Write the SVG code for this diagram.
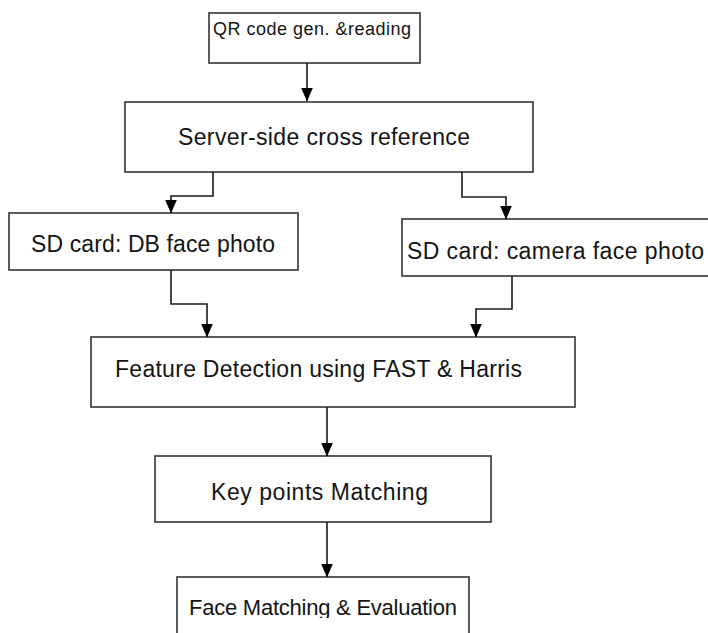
<svg xmlns="http://www.w3.org/2000/svg" width="708" height="633" viewBox="0 0 708 633">
  <style>
    .box { fill: #ffffff; stroke: #333333; stroke-width: 1.6; }
    .lbl { font-family: "Liberation Sans", Arial, sans-serif; fill: #141414; }
    .conn { fill: none; stroke: #1a1a1a; stroke-width: 1.6; }
  </style>
  <defs>
    <marker id="arrow" viewBox="0 0 14 12" refX="13.5" refY="6" markerWidth="14" markerHeight="12" orient="auto" markerUnits="userSpaceOnUse">
      <path d="M0,0 L14,6 L0,12 z" fill="#000000"/>
    </marker>
    <clipPath id="faceClip">
      <rect x="0" y="0" width="708" height="618"/>
    </clipPath>
  </defs>
  <rect x="0" y="0" width="708" height="633" fill="#ffffff"/>

  <g id="qr">
    <rect class="box" x="209" y="13" width="211" height="50"/>
    <text class="lbl" x="213" y="35" font-size="18" textLength="198" lengthAdjust="spacing">QR code gen. &amp;reading</text>
  </g>
  <g id="server">
    <rect class="box" x="125" y="102" width="408" height="70"/>
    <text class="lbl" x="178" y="145" font-size="23" textLength="292" lengthAdjust="spacing">Server-side cross reference</text>
  </g>
  <g id="sd-db">
    <rect class="box" x="9" y="213" width="289" height="57"/>
    <text class="lbl" x="31" y="252" font-size="23" textLength="244" lengthAdjust="spacing">SD card: DB face photo</text>
  </g>
  <g id="sd-camera">
    <rect class="box" x="402" y="219" width="310" height="57"/>
    <text class="lbl" x="407" y="259" font-size="23" textLength="297" lengthAdjust="spacing">SD card: camera face photo</text>
  </g>
  <g id="feature">
    <rect class="box" x="91" y="337" width="484" height="70"/>
    <text class="lbl" x="115" y="377" font-size="23" textLength="407" lengthAdjust="spacing">Feature Detection using FAST &amp; Harris</text>
  </g>
  <g id="keypoints">
    <rect class="box" x="155" y="456" width="336" height="66"/>
    <text class="lbl" x="211" y="500" font-size="23" textLength="217" lengthAdjust="spacing">Key points Matching</text>
  </g>
  <g id="face">
    <rect class="box" x="177" y="577" width="292" height="70"/>
    <text class="lbl" x="189" y="615" font-size="22" textLength="268" lengthAdjust="spacing" clip-path="url(#faceClip)">Face Matching &amp; Evaluation</text>
  </g>

  <g id="connectors">
    <path class="conn" d="M307,63 V101" marker-end="url(#arrow)"/>
    <path class="conn" d="M213,172 V196 H171 V213" marker-end="url(#arrow)"/>
    <path class="conn" d="M462,172 V197 H506 V219" marker-end="url(#arrow)"/>
    <path class="conn" d="M171,270 V304 H207 V337" marker-end="url(#arrow)"/>
    <path class="conn" d="M512,276 V309 H476 V337" marker-end="url(#arrow)"/>
    <path class="conn" d="M327,407 V456" marker-end="url(#arrow)"/>
    <path class="conn" d="M327,522 V577" marker-end="url(#arrow)"/>
  </g>
</svg>
